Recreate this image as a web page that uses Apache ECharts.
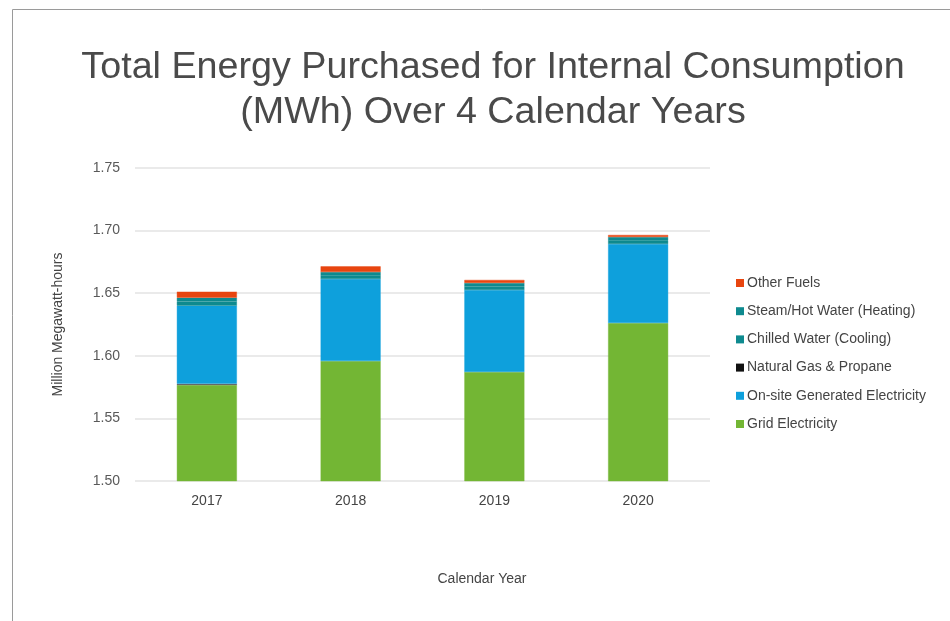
<!DOCTYPE html>
<html><head><meta charset="utf-8">
<script src="https://cdn.jsdelivr.net/npm/echarts@6/dist/echarts.min.js"></script>
<style>html,body{margin:0;padding:0;background:#fff}#c{width:950px;height:621px}</style>
</head><body><div id="c"></div>
<script>
const years = ['2017', '2018', '2019', '2020'];
const gridElectricity = [1.5767, 1.5958, 1.5871, 1.6262];
const naturalGas = [0.0010, null, null, null];
const onsiteElectricity = [0.0623, 0.0655, 0.0655, 0.0631];
const chilledWater = [0.0034, 0.0029, 0.0029, 0.0029];
const steamHotWater = [0.0030, 0.0027, 0.0027, 0.0027];
const otherFuels = [0.0048, 0.0045, 0.0024, 0.0016];
const yTicks = ['1.50', '1.55', '1.60', '1.65', '1.70', '1.75'];
const legendOrder = ['Other Fuels', 'Steam/Hot Water (Heating)', 'Chilled Water (Cooling)', 'Natural Gas & Propane', 'On-site Generated Electricity', 'Grid Electricity'];

const seriesDefs = [
  ['Grid Electricity', gridElectricity, '#73b634'],
  ['Natural Gas & Propane', naturalGas, '#505050'],
  ['On-site Generated Electricity', onsiteElectricity, '#0ea0dc'],
  ['Chilled Water (Cooling)', chilledWater, '#0e8a8f'],
  ['Steam/Hot Water (Heating)', steamHotWater, '#0e8a8f'],
  ['Other Fuels', otherFuels, '#e8450f']
];
const legendColors = {'Natural Gas & Propane': '#111'};
const font = '"Liberation Sans", Arial, sans-serif';
const chart = echarts.init(document.getElementById('c'), null, {renderer: 'canvas'});
chart.setOption({
  animation: false,
  backgroundColor: '#fff',
  title: {
    text: 'Total Energy Purchased for Internal Consumption\n(MWh) Over 4 Calendar Years',
    left: 488, top: 40, textAlign: 'center',
    textStyle: {fontFamily: font, fontWeight: 'normal', fontSize: 37.7, lineHeight: 45, color: '#4a4a4a'}
  },
  graphic: [
    {type: 'polyline', shape: {points: [[12.5, 621], [12.5, 9.5], [950, 9.5]]}, style: {stroke: '#9a9a9a', lineWidth: 1, fill: null}},
    {type: 'text', style: {text: 'Calendar Year', x: 482, y: 579, textAlign: 'center', textVerticalAlign: 'middle', font: '14px "Liberation Sans", Arial, sans-serif', fill: '#444'}}
  ],
  legend: {
    orient: 'vertical', left: 731, top: 271, itemGap: 14.2,
    itemWidth: 8, itemHeight: 8, icon: 'rect',
    itemStyle: {borderWidth: 0},
    textStyle: {fontFamily: font, fontSize: 14, color: '#444', padding: [0, 0, 0, -2]},
    data: legendOrder.map(n => ({name: n, itemStyle: legendColors[n] ? {color: legendColors[n], borderWidth: 0} : {borderWidth: 0}}))
  },
  grid: {left: 135, right: 240, top: 168, bottom: 140},
  xAxis: {
    type: 'category', data: years,
    axisLine: {show: false}, axisTick: {show: false},
    axisLabel: {fontFamily: font, fontSize: 14, color: '#444', margin: 13}
  },
  yAxis: {
    type: 'value', min: 1.5, max: 1.75, interval: 0.05,
    name: 'Million Megawatt-hours', nameLocation: 'middle', nameGap: 70, nameRotate: 90,
    nameTextStyle: {fontFamily: font, fontSize: 14, color: '#444'},
    axisLine: {show: false}, axisTick: {show: false},
    axisLabel: {fontFamily: font, fontSize: 14, color: '#595959', margin: 15,
      formatter: v => yTicks[Math.round((v - 1.5) / 0.05)] || v.toFixed(2)},
    splitLine: {lineStyle: {color: '#e3e3e3', width: 1.5}}
  },
  series: seriesDefs.map(d => ({
    name: d[0], type: 'bar', stack: 'total', data: d[1], barWidth: 60,
    itemStyle: {color: d[2], borderColor: d[2], borderWidth: 0.4}
  }))
});
</script></body></html>
